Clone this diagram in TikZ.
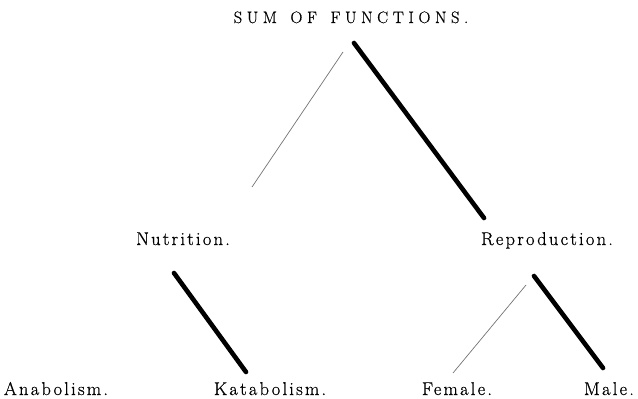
\documentclass[tikz,border=0pt]{standalone}
\usepackage{fontspec}
\setmainfont{Latin Modern Roman}
\tikzset{
  lbl/.style={anchor=base, inner sep=0pt, font=\fontsize{18.5}{22}\selectfont\addfontfeature{LetterSpace=12,FakeBold=0.6}},
  ttl/.style={anchor=base, inner sep=0pt, font=\fontsize{16.5}{20}\selectfont\addfontfeature{LetterSpace=28,FakeBold=0.6}},
  thinline/.style={draw=black!55, line width=0.7pt},
  thickline/.style={draw=black, line width=4.6pt, line cap=round}
}
\begin{document}
\begin{tikzpicture}[x=1pt, y=-1pt]
  \useasboundingbox (0,0) rectangle (638,399);
  \node[ttl] (title) at (351,23) {SUM\hspace{4pt} OF\hspace{4pt} FUNCTIONS.};
  \node[lbl] (nutr) at (183,245) {Nutrition.};
  \node[lbl] (repr) at (547,245) {Reproduction.};
  \node[lbl] (ana) at (56,395) {Anabolism.};
  \node[lbl] (kata) at (270,395) {Katabolism.};
  \node[lbl] (fem) at (457,395) {Female.};
  \node[lbl] (male) at (609,395) {Male.};
  % connector ends
  \coordinate (t1a) at (343,52);  \coordinate (t1b) at (252,187);
  \coordinate (k1a) at (354,43);  \coordinate (k1b) at (484,218);
  \coordinate (k2a) at (174,273); \coordinate (k2b) at (246,372);
  \coordinate (t2a) at (526,285); \coordinate (t2b) at (453,373);
  \coordinate (k3a) at (534,276); \coordinate (k3b) at (603,368);
  \draw[thinline] (t1a) -- (t1b);
  \draw[thickline] (k1a) -- (k1b);
  \draw[thickline] (k2a) -- (k2b);
  \draw[thinline] (t2a) -- (t2b);
  \draw[thickline] (k3a) -- (k3b);
\end{tikzpicture}
\end{document}
